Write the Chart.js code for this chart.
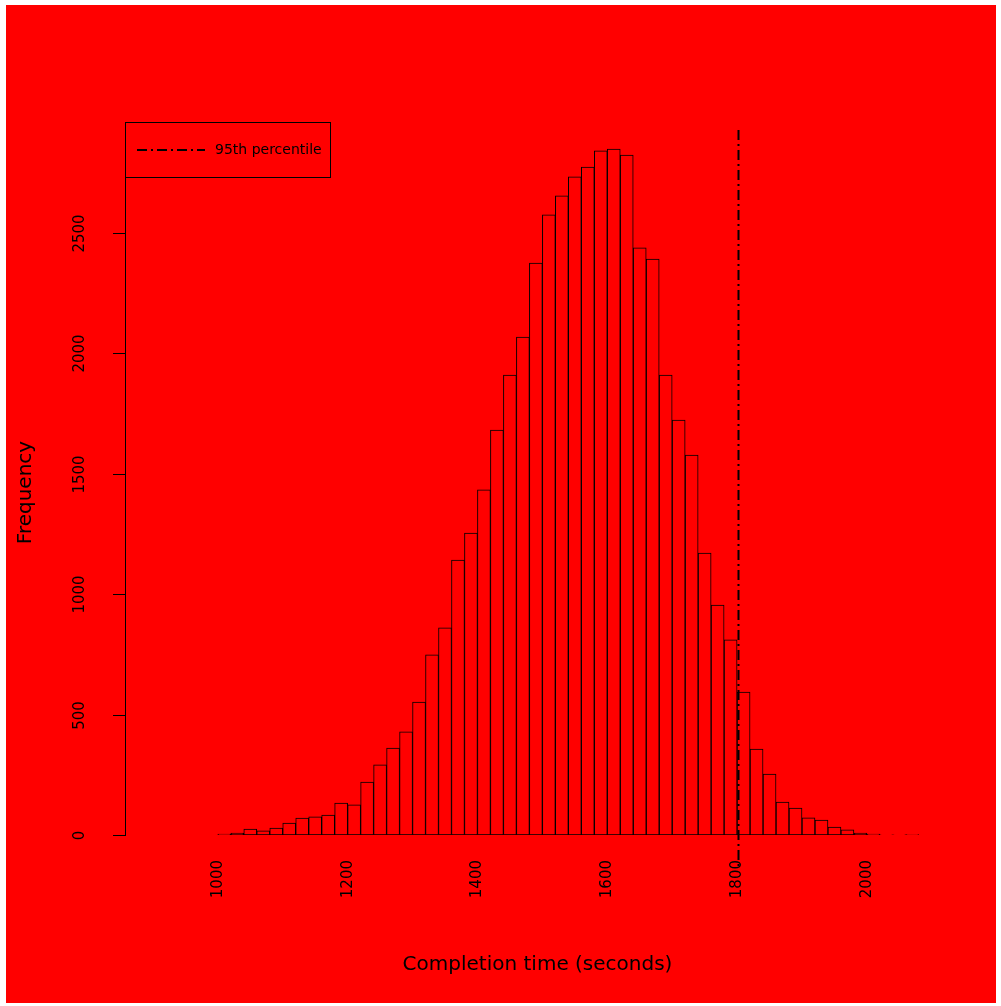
<!DOCTYPE html>
<html><head><meta charset="utf-8">
<script src="https://cdn.jsdelivr.net/npm/chart.js@4.4.1/dist/chart.umd.min.js"></script>
<style>
html,body{margin:0;padding:0;background:#fff;}
#wrap{position:absolute;left:6px;top:5px;width:990px;height:998px;}
</style></head><body><div id="wrap"><canvas id="c"></canvas></div>
<script>
// ---- data ----
const binCenters = [1010,1030,1050,1070,1090,1110,1130,1150,1170,1190,
  1210,1230,1250,1270,1290,1310,1330,1350,1370,1390,
  1410,1430,1450,1470,1490,1510,1530,1550,1570,1590,
  1610,1630,1650,1670,1690,1710,1730,1750,1770,1790,
  1810,1830,1850,1870,1890,1910,1930,1950,1970,1990,
  2010,2030,2050,2070];
const counts = [4,8,25,17,29,50,70,75,83,133,
  125,220,291,361,428,552,748,860,1142,1254,
  1433,1682,1910,2068,2375,2575,2654,2733,2774,2841,
  2849,2824,2438,2392,1910,1723,1578,1171,955,810,
  594,357,253,137,112,71,62,33,21,8,
  4,1,1,2];
const xTickValues = [1000,1200,1400,1600,1800,2000];
const yTickValues = [0,500,1000,1500,2000,2500];
const percentileValue = 1801;
const legendLabel = '95th percentile';
const xTitle = 'Completion time (seconds)';
const yTitle = 'Frequency';

const FONT = '"DejaVu Sans", sans-serif';
const deco = {
  id: 'deco',
  beforeDraw(chart) {
    const {ctx, width, height} = chart;
    ctx.save(); ctx.fillStyle = '#ff0000'; ctx.fillRect(0, 0, width, height); ctx.restore();
  },
  afterDraw(chart) {
    const {ctx, chartArea: a, scales: {x, y}} = chart;
    ctx.save();
    ctx.fillStyle = '#000'; ctx.strokeStyle = '#000'; ctx.lineWidth = 1;
    ctx.font = '15px ' + FONT;
    yTickValues.forEach(v => {
      const py = Math.round(y.getPixelForValue(v)) + 0.5;
      ctx.beginPath(); ctx.moveTo(a.left - 12, py); ctx.lineTo(a.left, py); ctx.stroke();
      ctx.save(); ctx.translate(a.left - 45, py); ctx.rotate(-Math.PI / 2);
      ctx.textAlign = 'center'; ctx.textBaseline = 'middle'; ctx.fillText(String(v), 0, 0); ctx.restore();
    });
    xTickValues.forEach(v => {
      const px = x.getPixelForValue(v);
      ctx.save(); ctx.translate(px, a.bottom + 25); ctx.rotate(-Math.PI / 2);
      ctx.textAlign = 'right'; ctx.textBaseline = 'middle'; ctx.fillText(String(v), 0, 0); ctx.restore();
    });
    ctx.font = '20px ' + FONT;
    ctx.textAlign = 'center'; ctx.textBaseline = 'middle';
    ctx.fillText(xTitle, (a.left + a.right) / 2, a.bottom + 130);
    ctx.save(); ctx.translate(20, (a.top + a.bottom) / 2 + 14); ctx.rotate(-Math.PI / 2);
    ctx.fillText(yTitle, 0, 0); ctx.restore();
    // percentile line
    const lx = Math.round(x.getPixelForValue(percentileValue)) + 0.5;
    ctx.setLineDash([10, 4, 2, 4]); ctx.lineWidth = 2;
    ctx.beginPath(); ctx.moveTo(lx, a.top + 8); ctx.lineTo(lx, a.bottom + 31); ctx.stroke();
    // legend
    ctx.setLineDash([]); ctx.lineWidth = 1;
    ctx.strokeRect(a.left + 0.5, a.top + 0.5, 205, 55);
    ctx.setLineDash([10, 4, 2, 4]); ctx.lineWidth = 2;
    ctx.beginPath(); ctx.moveTo(a.left + 12, a.top + 28); ctx.lineTo(a.left + 80, a.top + 28); ctx.stroke();
    ctx.setLineDash([]);
    ctx.font = '14px ' + FONT; ctx.textAlign = 'left';
    ctx.fillText(legendLabel, a.left + 90, a.top + 28);
    ctx.restore();
  }
};

new Chart(document.getElementById('c'), {
  type: 'bar',
  data: { datasets: [{
    data: binCenters.map((c, i) => ({x: c, y: counts[i]})),
    backgroundColor: '#ff0000', borderColor: '#000', borderWidth: 1, borderSkipped: false,
    barPercentage: 1, categoryPercentage: 1, grouped: false
  }]},
  options: {
    responsive: true, maintainAspectRatio: false, animation: false,
    layout: {padding: {left: 119, top: 117, right: 46, bottom: 168}},
    plugins: {legend: {display: false}, tooltip: {enabled: false}},
    scales: {
      x: {type: 'linear', min: 857, max: 2128, offset: false,
          grid: {display: false, drawTicks: false}, border: {display: false}, ticks: {display: false}},
      y: {min: 0, max: 2961, grid: {display: false, drawTicks: false},
          border: {display: true, color: '#000', width: 1}, ticks: {display: false}}
    }
  },
  plugins: [deco]
});
</script></body></html>
